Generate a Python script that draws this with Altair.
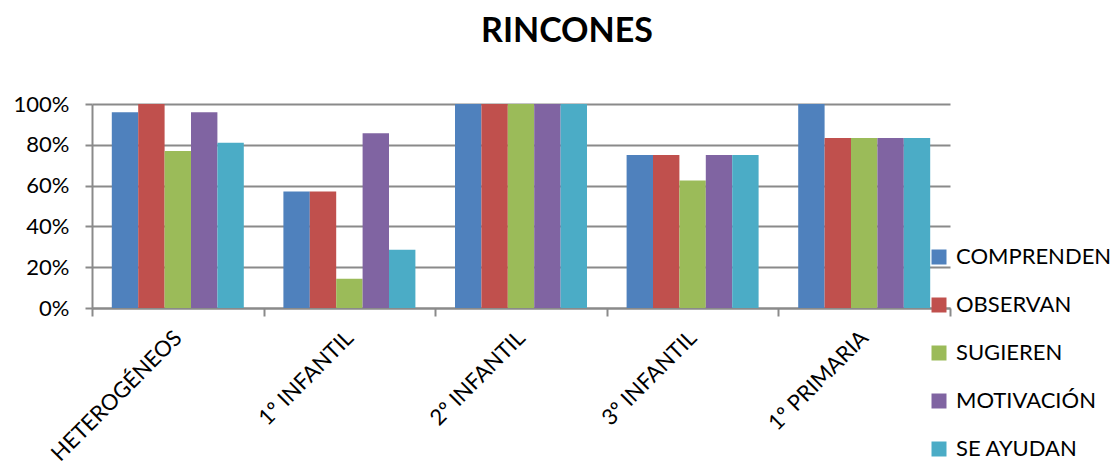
import altair as alt
import pandas as pd

categories = ["HETEROGÉNEOS", "1º INFANTIL", "2º INFANTIL", "3º INFANTIL", "1º PRIMARIA"]
series = ["COMPRENDEN", "OBSERVAN", "SUGIEREN", "MOTIVACIÓN", "SE AYUDAN"]
comprenden = [0.96, 0.571, 1.0, 0.75, 1.0]
observan = [1.0, 0.571, 1.0, 0.75, 0.833]
sugieren = [0.77, 0.143, 1.0, 0.625, 0.833]
motivacion = [0.96, 0.857, 1.0, 0.75, 0.833]
se_ayudan = [0.81, 0.286, 1.0, 0.75, 0.833]
colors = ["#4F81BD", "#C0504D", "#9BBB59", "#8064A2", "#4BACC6"]

values_by_series = [comprenden, observan, sugieren, motivacion, se_ayudan]
rows = []
for s, vals in zip(series, values_by_series):
    for c, v in zip(categories, vals):
        rows.append({"categoria": c, "serie": s, "valor": v})
df = pd.DataFrame(rows)

FONT = "Lato"
GRID = "#8a8a8a"

chart = alt.Chart(df).mark_bar().encode(
    x=alt.X(
        "categoria:N",
        sort=categories,
        scale=alt.Scale(paddingInner=0, paddingOuter=0),
        axis=alt.Axis(
            title=None,
            labelAngle=-45,
            labelAlign="right",
            labelBaseline="middle",
            labelFont=FONT,
            labelFontSize=22,
            labelColor="#000000",
            labelPadding=18,
            tickBand="extent",
            tickSize=8,
            tickColor=GRID,
            tickWidth=2,
            domainColor=GRID,
            domainWidth=2,
            grid=False,
        ),
    ),
    xOffset=alt.XOffset(
        "serie:N",
        sort=series,
        scale=alt.Scale(paddingInner=0, paddingOuter=0.75),
    ),
    y=alt.Y(
        "valor:Q",
        scale=alt.Scale(domain=[0, 1], nice=False),
        axis=alt.Axis(
            title=None,
            values=[0, 0.2, 0.4, 0.6, 0.8, 1.0],
            format=".0%",
            labelFont=FONT,
            labelFontSize=22,
            labelColor="#000000",
            labelPadding=16,
            tickSize=7,
            tickColor=GRID,
            tickWidth=2,
            domainColor=GRID,
            domainWidth=2,
            grid=True,
            gridColor=GRID,
            gridWidth=2,
        ),
    ),
    color=alt.Color(
        "serie:N",
        sort=series,
        scale=alt.Scale(domain=series, range=colors),
        legend=alt.Legend(
            title=None,
            orient="none",
            legendX=836,
            legendY=142,
            symbolType="square",
            symbolSize=225,
            symbolStrokeWidth=0,
            symbolOpacity=1,
            labelFont=FONT,
            labelFontSize=22,
            labelColor="#000000",
            labelOffset=6,
            rowPadding=26,
            padding=0,
        ),
    ),
).properties(
    width=858,
    height=204,
    title=alt.Title(
        "RINCONES",
        font=FONT,
        fontSize=34,
        fontWeight="bold",
        color="#000000",
        anchor="middle",
        dx=46,
        offset=44,
    ),
    autosize=alt.AutoSizeParams(type="none"),
    padding={"left": 92, "top": 104, "right": 160, "bottom": 154},
).configure_view(stroke=None)

chart.save("out.html", embed_options={"renderer": "svg", "actions": False})
